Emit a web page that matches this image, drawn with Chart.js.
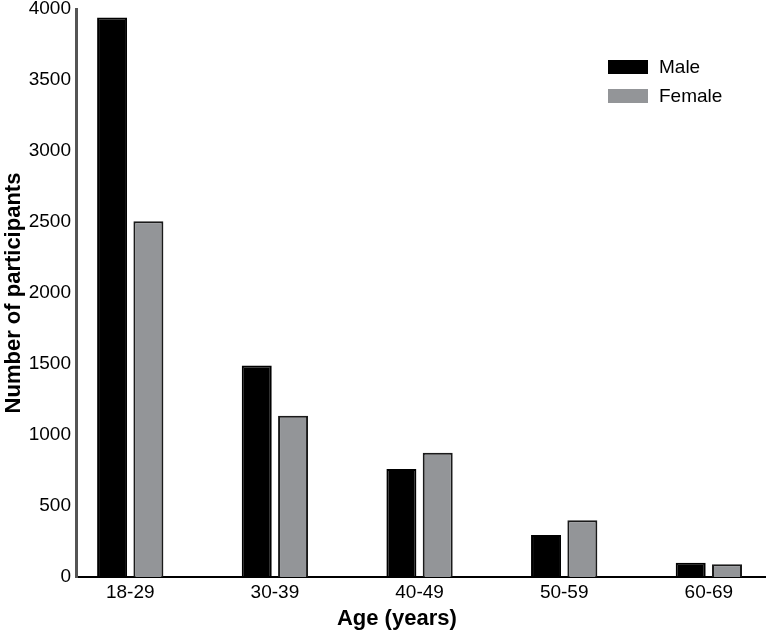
<!DOCTYPE html>
<html>
<head>
<meta charset="utf-8">
<script src="https://cdn.jsdelivr.net/npm/chart.js@4.4.0/dist/chart.umd.min.js"></script>
<style>
  html, body { margin: 0; padding: 0; background: #fff; overflow: hidden; }
  #wrap { position: relative; width: 766px; height: 632px; }
  #leyenda { position: absolute; left: 608px; top: 52px; font-family: "Liberation Sans", Arial, sans-serif; font-size: 19px; color: #000; }
  .item { display: flex; align-items: center; height: 29px; }
  .caja { width: 40px; height: 14px; margin-right: 11px; }
</style>
</head>
<body>
<div id="wrap">
  <canvas id="grafica" width="766" height="632"></canvas>
  <div id="leyenda"></div>
</div>
<script>
const categorias = ['18-29', '30-39', '40-49', '50-59', '60-69'];
const hombres = [3940, 1490, 760, 295, 100];
const mujeres = [2505, 1135, 875, 400, 90];
const ticksY = [0, 500, 1000, 1500, 2000, 2500, 3000, 3500, 4000];

const fuente = '"Liberation Sans", Arial, Helvetica, sans-serif';

// titulo del eje x, un poco a la izquierda del centro como en la original
const tituloX = {
  id: 'tituloX',
  afterDraw(chart) {
    const { ctx, chartArea } = chart;
    ctx.save();
    ctx.font = 'bold 22px ' + fuente;
    ctx.fillStyle = '#000';
    ctx.textAlign = 'center';
    ctx.textBaseline = 'middle';
    ctx.fillText('Age (years)', chartArea.left + chartArea.width * 0.465, 619);
    ctx.restore();
  }
};

const ctx = document.getElementById('grafica').getContext('2d');

const grafica = new Chart(ctx, {
  type: 'bar',
  data: {
    datasets: [{
      label: 'Male',
      data: hombres.map((v, i) => ({ x: i, y: v })),
      backgroundColor: '#000000',
      borderColor: '#000000',
      borderWidth: 2
    }, {
      label: 'Female',
      data: mujeres.map((v, i) => ({ x: i, y: v })),
      backgroundColor: '#939598',
      borderColor: '#1a1a1a',
      borderWidth: 2
    }]
  },
  options: {
    responsive: false,
    animation: false,
    barPercentage: 0.826,
    categoryPercentage: 0.502,
    layout: { padding: 0 },
    plugins: {
      legend: { display: false },
      tooltip: { enabled: false }
    },
    scales: {
      x: {
        type: 'linear',
        min: -0.375,
        max: 4.395,
        offset: false,
        grid: { display: false, drawTicks: false },
        border: { color: '#000', width: 2 },
        afterBuildTicks: (eje) => { eje.ticks = categorias.map((c, i) => ({ value: i })); },
        afterFit: (eje) => { eje.height = 55; },
        ticks: {
          padding: 4,
          color: '#000',
          font: { family: fuente, size: 19 },
          maxRotation: 0,
          callback: (v) => categorias[v]
        }
      },
      y: {
        min: 0,
        max: 4000,
        grid: { display: false, drawTicks: false },
        border: { color: '#555', width: 3 },
        afterBuildTicks: (eje) => { eje.ticks = ticksY.map(v => ({ value: v })); },
        afterFit: (eje) => { eje.width = 76; eje.paddingTop = 9; },
        ticks: {
          padding: 5,
          color: '#000',
          font: { family: fuente, size: 19, lineHeight: 1 },
          callback: (v) => String(v)
        },
        title: {
          display: true,
          text: 'Number of participants',
          color: '#000',
          font: { family: fuente, size: 22, weight: 'bold' },
          padding: { top: 1, bottom: 0 }
        }
      }
    }
  },
  plugins: [tituloX]
});

// leyenda en html arriba a la derecha
const leyenda = document.getElementById('leyenda');
grafica.data.datasets.forEach(ds => {
  const item = document.createElement('div');
  item.className = 'item';
  const caja = document.createElement('span');
  caja.className = 'caja';
  caja.style.background = ds.backgroundColor;
  const texto = document.createElement('span');
  texto.textContent = ds.label;
  item.appendChild(caja);
  item.appendChild(texto);
  leyenda.appendChild(item);
});
</script>
</body>
</html>
